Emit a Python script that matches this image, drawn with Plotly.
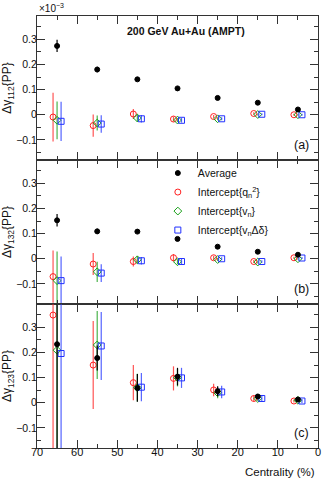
import plotly.graph_objects as go
from plotly.subplots import make_subplots

# centrality bin centres (%) and small x offsets used for the intercept points
cent = [65, 55, 45, 35, 25, 15, 5]
cent_q2 = [66, 56, 46, 36, 26, 16, 6]
cent_vn = [65, 55, 45, 35, 25, 15, 5]
cent_dd = [64, 54, 44, 34, 24, 14, 4]

# panel (a): Delta gamma_112 {PP}  (x1e-3)
avg_112 = [0.274, 0.180, 0.141, 0.105, 0.067, 0.048, 0.021]
avg_112_err = [0.024, 0.011, 0.005, 0.005, 0.004, 0.004, 0.004]
q2_112 = [-0.009, -0.043, 0.003, -0.017, -0.007, 0.005, 0.000]
q2_112_err = [0.097, 0.044, 0.020, 0.010, 0.006, 0.005, 0.004]
vn_112 = [-0.022, -0.033, -0.013, -0.021, -0.016, 0.001, 0.000]
vn_112_err = [0.075, 0.030, 0.015, 0.008, 0.006, 0.004, 0.004]
dd_112 = [-0.026, -0.037, -0.016, -0.022, -0.016, 0.002, 0.000]
dd_112_err = [0.078, 0.035, 0.015, 0.009, 0.006, 0.004, 0.004]

# panel (b): Delta gamma_132 {PP}
avg_132 = [0.153, 0.109, 0.108, 0.079, 0.048, 0.028, 0.016]
avg_132_err = [0.025, 0.010, 0.005, 0.005, 0.004, 0.004, 0.004]
q2_132 = [-0.071, -0.021, -0.011, 0.004, 0.004, -0.011, 0.004]
q2_132_err = [0.104, 0.044, 0.020, 0.015, 0.008, 0.006, 0.004]
vn_132 = [-0.087, -0.052, -0.004, -0.012, -0.003, -0.013, 0.000]
vn_132_err = [0.116, 0.040, 0.015, 0.010, 0.006, 0.006, 0.004]
dd_132 = [-0.087, -0.057, -0.008, -0.011, 0.000, -0.011, 0.003]
dd_132_err = [0.096, 0.035, 0.015, 0.010, 0.006, 0.005, 0.004]

# panel (c): Delta gamma_123 {PP}
avg_123 = [0.233, 0.178, 0.059, 0.104, 0.046, 0.025, 0.013]
avg_123_err = [0.500, 0.050, 0.055, 0.035, 0.020, 0.010, 0.008]
q2_123 = [0.349, 0.150, 0.080, 0.097, 0.051, 0.017, 0.007]
q2_123_err = [0.600, 0.175, 0.070, 0.048, 0.025, 0.012, 0.006]
vn_123 = [0.209, 0.230, 0.060, 0.100, 0.040, 0.017, 0.010]
vn_123_err = [0.500, 0.135, 0.055, 0.035, 0.022, 0.010, 0.008]
dd_123 = [0.196, 0.226, 0.062, 0.099, 0.043, 0.017, 0.007]
dd_123_err = [0.500, 0.135, 0.056, 0.040, 0.025, 0.010, 0.008]

panels = [
    (avg_112, avg_112_err, q2_112, q2_112_err, vn_112, vn_112_err, dd_112, dd_112_err),
    (avg_132, avg_132_err, q2_132, q2_132_err, vn_132, vn_132_err, dd_132, dd_132_err),
    (avg_123, avg_123_err, q2_123, q2_123_err, vn_123, vn_123_err, dd_123, dd_123_err),
]
ytitles = ["Δγ<sub>112</sub>{PP}", "Δγ<sub>132</sub>{PP}", "Δγ<sub>123</sub>{PP}"]
labels = ["(a)", "(b)", "(c)"]

names = ["Average", "Intercept{q<sub>n</sub><sup>2</sup>}",
         "Intercept{v<sub>n</sub>}", "Intercept{v<sub>n</sub>Δδ}"]
colours = ["black", "#ff2020", "#18a018", "#2030ff"]
err_colours = ["black", "rgba(255,40,40,0.8)", "rgba(30,160,30,0.8)", "rgba(40,60,255,0.8)"]
symbols = ["circle", "circle-open", "diamond-open", "square-open"]
sizes = [5, 6, 6, 6]
xs = [cent, cent_q2, cent_vn, cent_dd]

fig = make_subplots(rows=3, cols=1, shared_xaxes=True, vertical_spacing=0)

for r, p in enumerate(panels):
    row = r + 1
    fig.add_hline(y=0, line=dict(color="#444", width=1, dash="dash"), row=row, col=1)
    # intercepts first, average drawn on top
    for k in [1, 2, 3, 0]:
        fig.add_trace(go.Scatter(
            x=xs[k], y=p[2 * k],
            error_y=dict(type="data", array=p[2 * k + 1], color=err_colours[k],
                         thickness=1.2, width=0),
            mode="markers", name=names[k],
            legendrank=k,
            showlegend=(row == 2),
            marker=dict(color=colours[k], symbol=symbols[k], size=sizes[k],
                        line=dict(color=colours[k], width=1)),
        ), row=row, col=1)

axis_style = dict(showline=True, linecolor="#333", linewidth=1, mirror="allticks",
                  ticks="inside", tickcolor="#333", showgrid=False, zeroline=False)

fig.update_xaxes(range=[70, 0], dtick=10, ticklen=8, ticklabelstandoff=-6,
                 ticklabeloverflow="allow",
                 tickfont=dict(size=11, color="#111"),
                 minor=dict(dtick=5, ticks="inside", ticklen=4, tickcolor="#333"),
                 **axis_style)

for r in range(3):
    fig.update_yaxes(range=[-0.18, 0.393], ticklen=8, ticklabelstandoff=-3,
                     tickvals=[-0.1, 0, 0.1, 0.2, 0.3],
                     ticktext=["−0.1", "0", "0.1", "0.2", "0.3"],
                     tickfont=dict(size=10.5, color="#111"),
                     minor=dict(dtick=0.05, ticks="inside", ticklen=4, tickcolor="#333"),
                     title=dict(text=ytitles[r], font=dict(size=12, color="#111"), standoff=2),
                     row=r + 1, col=1, **axis_style)
    fig.add_annotation(text=labels[r], xref="x domain", yref="y domain",
                       x=0.975, y=0.04, xanchor="right", yanchor="bottom",
                       showarrow=False, font=dict(size=12.5, color="#111"),
                       row=r + 1, col=1)

fig.add_annotation(text="×10<sup>−3</sup>", xref="paper", yref="paper", x=0.0, y=1.0,
                   xanchor="left", yanchor="bottom", showarrow=False,
                   font=dict(size=10, color="#111"))
fig.add_annotation(text="<b>200 GeV Au+Au (AMPT)</b>", xref="paper", yref="paper",
                   x=0.53, y=0.965, xanchor="center", yanchor="middle", showarrow=False,
                   font=dict(size=10.5, color="#111"))
fig.add_annotation(text="Centrality (%)", xref="paper", yref="paper", x=0.995, y=-0.036,
                   xanchor="right", yanchor="top", showarrow=False,
                   font=dict(size=11.5, color="#111"))

fig.update_layout(
    width=324, height=478,
    margin=dict(l=37, r=3, t=16, b=30),
    paper_bgcolor="white", plot_bgcolor="white",
    font=dict(family="Liberation Sans, Arial, sans-serif", size=11, color="#111"),
    legend=dict(x=0.43, y=0.67, xanchor="left", yanchor="top",
                bgcolor="rgba(0,0,0,0)", font=dict(size=10.5), tracegroupgap=0,
                itemwidth=30),
)

# drop the default page margin so the figure sits at the window's corner
fig.write_html("out.html", config={"displayModeBar": False},
               post_script="document.body.style.margin='0';")
